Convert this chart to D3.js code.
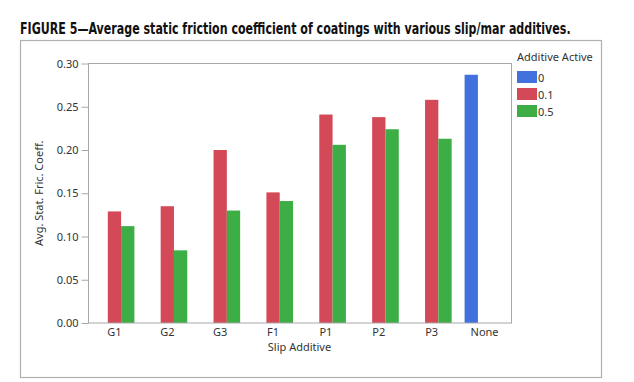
<!DOCTYPE html>
<html>
<head>
<meta charset="utf-8">
<script src="https://cdn.jsdelivr.net/npm/d3@7"></script>
<style>
  body { margin: 0; background: #fff; }
  text { font-family: "Noto Sans", "Open Sans", sans-serif; fill: #333; }
  .title { font-family: "DejaVu Sans Condensed", "DejaVu Sans", sans-serif; font-stretch: condensed; font-weight: bold; fill: #111; }
</style>
</head>
<body>
<svg id="viz" width="634" height="382"></svg>
<script>
var width = 634;
var height = 382;

// data
let categories = ["G1", "G2", "G3", "F1", "P1", "P2", "P3", "None"];
let levels = ["0", "0.1", "0.5"];
let level0 = [null, null, null, null, null, null, null, 0.287];
let level01 = [0.129, 0.135, 0.200, 0.151, 0.241, 0.238, 0.258, null];
let level05 = [0.112, 0.084, 0.130, 0.141, 0.206, 0.224, 0.213, null];
let yTicks = [0, 0.05, 0.10, 0.15, 0.20, 0.25, 0.30];
let colors = ["#4270dd", "#d44958", "#3dae46"];

let series = [level0, level01, level05];

let svg = d3.select("#viz");

// title: squeeze horizontally so it spans the same width as the original
let titleG = svg.append("g").attr("transform", "translate(20,34)");
let title = titleG.append("text")
	.attr("class", "title")
	.attr("font-size", 16.5)
	.text("FIGURE 5\u2014Average static friction coefficient of coatings with various slip/mar additives.");
let tw = title.node().getComputedTextLength();
if (tw > 0) title.attr("transform", "scale(" + (551 / tw) + ",1)");

// outer frame
svg.append("rect")
	.attr("x", 20.5).attr("y", 40.5)
	.attr("width", 581).attr("height", 337)
	.attr("fill", "none")
	.attr("stroke", "#b0b0b0")
	.attr("stroke-width", 1.2);

let plot = {left: 88, right: 511, top: 63.5, bottom: 323};

let x = d3.scaleBand()
	.domain(categories)
	.range([plot.left, plot.right])
	.paddingInner(0.245)
	.paddingOuter(0.1225);

let xSub = d3.scaleBand()
	.domain(levels)
	.range([0, x.bandwidth()]);

let y = d3.scaleLinear()
	.domain([0, 0.30])
	.range([plot.bottom, plot.top]);

// bars
let rows = [];
categories.forEach(function (c, i) {
	series.forEach(function (s, j) {
		if (s[i] !== null) rows.push({cat: c, level: levels[j], value: s[i], color: colors[j]});
	});
});

svg.append("g")
	.selectAll("rect")
	.data(rows)
	.enter()
	.append("rect")
	.attr("x", function (d) { return x(d.cat) + xSub(d.level); })
	.attr("y", function (d) { return y(d.value); })
	.attr("width", xSub.bandwidth())
	.attr("height", function (d) { return y(0) - y(d.value); })
	.attr("fill", function (d) { return d.color; });

// plot frame
svg.append("rect")
	.attr("x", plot.left + 0.5).attr("y", plot.top)
	.attr("width", plot.right - plot.left).attr("height", plot.bottom - plot.top)
	.attr("fill", "none")
	.attr("stroke", "#a8a8a8")
	.attr("stroke-width", 1);

// y axis
let yAxis = svg.append("g")
	.attr("transform", "translate(" + (plot.left + 0.5) + ",0)")
	.call(d3.axisLeft(y).tickValues(yTicks).tickFormat(d3.format(".2f")).tickSize(7).tickPadding(3));
yAxis.select(".domain").remove();
yAxis.selectAll("line").attr("stroke", "#a8a8a8");
yAxis.selectAll("text").attr("font-size", 11).attr("fill", "#333").style("font-family", "Noto Sans");

// x axis
let xAxis = svg.append("g")
	.attr("transform", "translate(0," + plot.bottom + ")")
	.call(d3.axisBottom(x).tickSize(0).tickPadding(5));
xAxis.select(".domain").remove();
xAxis.selectAll("text").attr("font-size", 11).attr("fill", "#333").style("font-family", "Noto Sans");

// axis titles
svg.append("text")
	.attr("x", (plot.left + plot.right) / 2)
	.attr("y", 351)
	.attr("text-anchor", "middle")
	.attr("font-size", 11)
	.text("Slip Additive");

svg.append("text")
	.attr("transform", "translate(43," + ((plot.top + plot.bottom) / 2) + ") rotate(-90)")
	.attr("text-anchor", "middle")
	.attr("font-size", 11)
	.text("Avg. Stat. Fric. Coeff.");

// legend
let legend = svg.append("g").attr("transform", "translate(517,0)");
legend.append("text")
	.attr("x", 0).attr("y", 61)
	.attr("font-size", 11)
	.text("Additive Active");

let item = legend.selectAll("g.item")
	.data(levels)
	.enter()
	.append("g")
	.attr("class", "item")
	.attr("transform", function (d, i) { return "translate(0," + (71 + i * 17) + ")"; });
item.append("rect")
	.attr("width", 20).attr("height", 12)
	.attr("fill", function (d, i) { return colors[i]; });
item.append("text")
	.attr("x", 21).attr("y", 10.5)
	.attr("font-size", 11)
	.text(function (d) { return d; });
</script>
</body>
</html>
